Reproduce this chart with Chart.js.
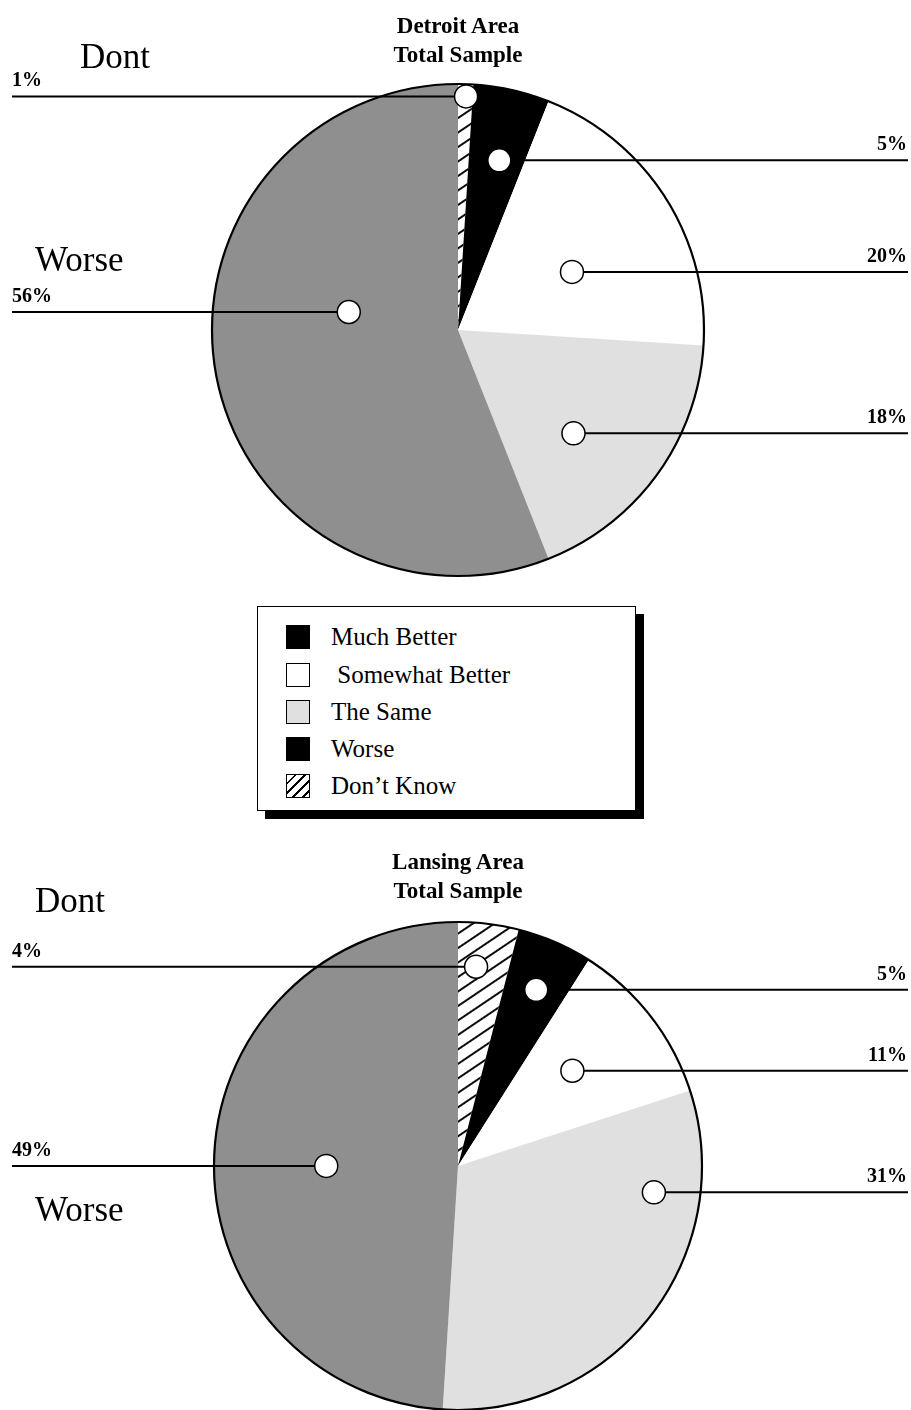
<!DOCTYPE html>
<html>
<head>
<meta charset="utf-8">
<script src="https://cdn.jsdelivr.net/npm/chart.js@4/dist/chart.umd.min.js"></script>
<style>
  html, body { margin: 0; padding: 0; background: #fff; }
  body { position: relative; width: 911px; height: 1410px; overflow: hidden;
         font-family: "Liberation Serif", "Times New Roman", serif; color: #000; }
  canvas { position: absolute; left: 0; }
  .title { position: absolute; left: 258px; width: 400px; text-align: center;
           font-weight: bold; font-size: 23px; line-height: 29px; }
  .side { position: absolute; font-size: 35px; line-height: 35px; white-space: nowrap; }
  .legend { position: absolute; left: 257px; top: 606px; width: 377px; height: 203px;
            border: 1.5px solid #000; background: #fff; box-shadow: 8px 8px 0 #000; }
  .row { position: absolute; left: 28px; height: 24px; display: flex; align-items: center;
         font-size: 25px; white-space: nowrap; }
  .sw { width: 24px; height: 24px; border: 1px solid #000; box-sizing: border-box; margin-right: 21px; }
</style>
</head>
<body>
<canvas id="detroit" width="911" height="600" style="top:0"></canvas>
<canvas id="lansing" width="911" height="580" style="top:830px"></canvas>

<div class="title" style="top:11px">Detroit Area<br>Total Sample</div>
<div class="title" style="top:847px">Lansing Area<br>Total Sample</div>

<div class="side" style="left:80px;top:39px">Dont</div>
<div class="side" style="left:35px;top:242px">Worse</div>
<div class="side" style="left:35px;top:883px">Dont</div>
<div class="side" style="left:35px;top:1192px">Worse</div>

<div class="legend" id="legend"></div>

<script>
// Slice order runs clockwise from twelve o'clock
const categories = ['Don\u2019t Know', 'Much Better', 'Somewhat Better', 'The Same', 'Worse'];
const detroitValues = [1, 5, 20, 18, 56];
const lansingValues = [4, 5, 11, 31, 49];

// Legend order and text
const legendLabels = ['Much Better', '\u00a0Somewhat Better', 'The Same', 'Worse', 'Don\u2019t Know'];
const legendFills = ['#000', '#fff', '#e0e0e0', '#000', 'hatch'];

// Where each callout dot sits inside its slice: fraction along the slice's sweep,
// fraction of the radius, and which page edge carries the percentage
const detroitDotSweep = [0.55, 0.56, 0.575, 0.59, 0.60];
const detroitDotRadius = [0.95, 0.71, 0.52, 0.63, 0.45];
const detroitSide = ['left', 'right', 'right', 'right', 'left'];
const lansingDotSweep = [0.36, 0.53, 0.45, 0.23, 0.49];
const lansingDotRadius = [0.82, 0.79, 0.61, 0.81, 0.54];
const lansingSide = ['left', 'right', 'right', 'right', 'left'];

function makeHatch(ctx) {
  const tile = document.createElement('canvas');
  tile.width = 24; tile.height = 12;
  const t = tile.getContext('2d');
  t.fillStyle = '#fff';
  t.fillRect(0, 0, 24, 12);
  t.strokeStyle = '#000';
  t.lineWidth = 1.9;
  t.beginPath(); t.moveTo(0, 6); t.lineTo(24, 6); t.stroke();
  const p = ctx.createPattern(tile, 'repeat');
  p.setTransform(new DOMMatrix().rotate(-34));
  return p;
}

const calloutPlugin = {
  id: 'callouts',
  afterDatasetsDraw(chart, args, opts) {
    const ctx = chart.ctx;
    const arcs = chart.getDatasetMeta(0).data;
    const values = chart.data.datasets[0].data;
    const cx = arcs[0].x, cy = arcs[0].y, R = arcs[0].outerRadius;
    ctx.save();
    // outer rim
    ctx.beginPath();
    ctx.arc(cx, cy, R, 0, Math.PI * 2);
    ctx.lineWidth = 2.2;
    ctx.strokeStyle = '#000';
    ctx.stroke();

    const dotR = 11.5;
    const leftX = 12, rightX = 908;
    arcs.forEach((arc, i) => {
      const a = arc.startAngle + opts.sweep[i] * (arc.endAngle - arc.startAngle);
      const r = opts.radius[i] * R;
      const x = cx + r * Math.cos(a);
      const y = cy + r * Math.sin(a);
      const side = opts.side[i];
      // leader line
      ctx.beginPath();
      ctx.lineWidth = 2;
      ctx.strokeStyle = '#000';
      if (side === 'left') { ctx.moveTo(leftX, y); ctx.lineTo(x - dotR, y); }
      else { ctx.moveTo(x + dotR, y); ctx.lineTo(rightX, y); }
      ctx.stroke();
      // dot
      ctx.beginPath();
      ctx.arc(x, y, dotR, 0, Math.PI * 2);
      ctx.fillStyle = '#fff';
      ctx.fill();
      ctx.lineWidth = 1.5;
      ctx.stroke();
      // percentage
      ctx.fillStyle = '#000';
      ctx.font = 'bold 20px "Liberation Serif", serif';
      ctx.textBaseline = 'alphabetic';
      ctx.textAlign = side === 'left' ? 'left' : 'right';
      ctx.fillText(values[i] + '%', side === 'left' ? leftX : rightX - 1, y - 10);
    });
    ctx.restore();
  }
};

function drawPie(id, values, padding, sweep, radius, side) {
  const canvas = document.getElementById(id);
  const ctx = canvas.getContext('2d');
  const hatch = makeHatch(ctx);
  return new Chart(ctx, {
    type: 'pie',
    data: {
      labels: categories,
      datasets: [{
        data: values,
        backgroundColor: [hatch, '#000000', '#ffffff', '#e0e0e0', '#8f8f8f'],
        borderWidth: 0
      }]
    },
    options: {
      responsive: false,
      animation: false,
      devicePixelRatio: 1,
      events: [],
      layout: { padding },
      plugins: {
        legend: { display: false },
        tooltip: { enabled: false },
        title: { display: false },
        callouts: { sweep, radius, side }
      }
    },
    plugins: [calloutPlugin]
  });
}

drawPie('detroit', detroitValues, { left: 212, right: 207, top: 84, bottom: 24 },
        detroitDotSweep, detroitDotRadius, detroitSide);
drawPie('lansing', lansingValues, { left: 214, right: 209, top: 92, bottom: 0 },
        lansingDotSweep, lansingDotRadius, lansingSide);

// Legend box
const legend = document.getElementById('legend');
const rowTops = [18, 56, 93, 130, 167];
legendLabels.forEach((label, i) => {
  const row = document.createElement('div');
  row.className = 'row';
  row.style.top = rowTops[i] + 'px';
  const sw = document.createElement('div');
  sw.className = 'sw';
  if (legendFills[i] === 'hatch') {
    sw.style.background = 'repeating-linear-gradient(135deg, #fff 0px, #fff 5px, #000 5px, #000 7px)';
  } else {
    sw.style.background = legendFills[i];
  }
  const txt = document.createElement('span');
  txt.textContent = label;
  row.appendChild(sw);
  row.appendChild(txt);
  legend.appendChild(row);
});
</script>
</body>
</html>
